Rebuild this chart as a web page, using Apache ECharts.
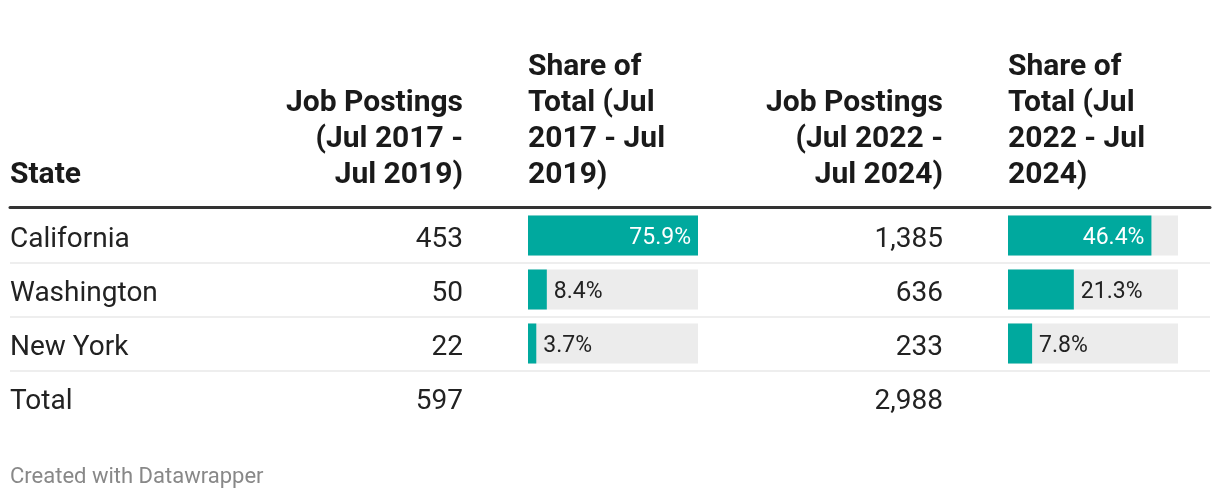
<!DOCTYPE html>
<html><head><meta charset="utf-8">
<script src="https://cdn.jsdelivr.net/npm/echarts@6/dist/echarts.min.js"></script>
<style>html,body{margin:0;padding:0;background:#fff}#c{width:1220px;height:500px}</style>
</head><body><div id="c"></div>
<script>
// ---- data ----
const states = ['California', 'Washington', 'New York', 'Total'];
const postings2017 = [453, 50, 22, 597];
const share2017 = [75.9, 8.4, 3.7];
const postings2022 = [1385, 636, 233, 2988];
const share2022 = [46.4, 21.3, 7.8];
const headers = [
  'State',
  'Job Postings\n(Jul 2017 -\nJul 2019)',
  'Share of\nTotal (Jul\n2017 - Jul\n2019)',
  'Job Postings\n(Jul 2022 -\nJul 2024)',
  'Share of\nTotal (Jul\n2022 - Jul\n2024)'
];
const footer = 'Created with Datawrapper';
const share2017Max = 75.9;
const share2022Max = 55;

// ---- layout ----
const FONT = 'Roboto';
const TOP = 208.5, ROW = 54;
const TEXT_SHIFT = 4;
const TEXT = '#222';
const TEAL = '#00a99e';
const TRACK = '#ececec';
const fmt = v => v.toLocaleString('en-US');

const hidden = { show: false };
function textGrid(left, width, shift) {
  return { left: left, width: width, top: TOP + (shift || 0), height: ROW * 4, containLabel: false };
}
function barGrid(left) {
  return { left: left, width: 170, top: TOP, height: ROW * 3, containLabel: false };
}
function hiddenX(gi) {
  return { type: 'value', gridIndex: gi, show: false, min: 0, max: 1 };
}
function labelY(gi, data, position, align) {
  return {
    type: 'category', gridIndex: gi, inverse: true, data: data, position: position,
    axisLine: hidden, axisTick: hidden, splitLine: hidden,
    axisLabel: { show: true, margin: 0, align: align, fontFamily: FONT, fontSize: 28, color: TEXT }
  };
}
function barSeries(xi, vals, max) {
  return {
    type: 'bar', xAxisIndex: xi, yAxisIndex: xi, barWidth: 40,
    showBackground: true, backgroundStyle: { color: TRACK },
    itemStyle: { color: TEAL },
    label: { show: true, distance: 7, fontFamily: FONT, fontSize: 23, offset: [0, 3],
      formatter: p => p.value.toFixed(1) + '%' },
    data: vals.map(v => ({
      value: v,
      label: v / max > 0.5 ? { position: 'insideRight', color: '#fff' } : { position: 'right', color: TEXT }
    })),
    silent: true, animation: false
  };
}

const chart = echarts.init(document.getElementById('c'), null, { renderer: 'canvas' });
const headerX = [10, 463, 528, 943, 1008];
const headerAlign = ['left', 'right', 'left', 'right', 'left'];

chart.setOption({
  animation: false,
  backgroundColor: '#fff',
  grid: [
    textGrid(10, 1200),               // 0 frame (rules)
    textGrid(0, 10, TEXT_SHIFT),      // 1 state names
    textGrid(463, 1, TEXT_SHIFT),     // 2 postings 2017
    barGrid(528),                     // 3 share 2017
    textGrid(943, 1, TEXT_SHIFT),     // 4 postings 2022
    barGrid(1008)                     // 5 share 2022
  ],
  xAxis: [
    { type: 'value', gridIndex: 0, position: 'top', offset: 1, min: 0, max: 1,
      axisLine: { show: true, onZero: false, lineStyle: { color: '#333', width: 3 } },
      axisTick: hidden, axisLabel: hidden, splitLine: hidden },
    hiddenX(1), hiddenX(2),
    { type: 'value', gridIndex: 3, show: false, min: 0, max: share2017Max },
    hiddenX(4),
    { type: 'value', gridIndex: 5, show: false, min: 0, max: share2022Max }
  ],
  yAxis: [
    { type: 'value', gridIndex: 0, min: 0, max: states.length, interval: 1, inverse: true,
      axisLine: hidden, axisTick: hidden, axisLabel: hidden,
      splitLine: { show: true, lineStyle: { width: 2, color: ['rgba(0,0,0,0)', '#eeeeee', '#eeeeee', '#eeeeee', 'rgba(0,0,0,0)'] } } },
    labelY(1, states, 'right', 'left'),
    labelY(2, postings2017.map(fmt), 'left', 'right'),
    { type: 'category', gridIndex: 3, inverse: true, data: states.slice(0, 3), show: false },
    labelY(4, postings2022.map(fmt), 'left', 'right'),
    { type: 'category', gridIndex: 5, inverse: true, data: states.slice(0, 3), show: false }
  ],
  series: [
    barSeries(3, share2017, share2017Max),
    barSeries(5, share2022, share2022Max)
  ],
  graphic: headers.map((h, i) => ({
    type: 'text', x: headerX[i], y: 193, silent: true,
    style: { text: h, fontFamily: FONT, fontSize: 30, fontWeight: 'bold', fill: '#1a1a1a',
      lineHeight: 36, align: headerAlign[i], verticalAlign: 'bottom' }
  })).concat([{
    type: 'text', x: 10, y: 477, silent: true,
    style: { text: footer, fontFamily: FONT, fontSize: 22, fill: '#888', align: 'left', verticalAlign: 'middle' }
  }])
});
</script></body></html>
